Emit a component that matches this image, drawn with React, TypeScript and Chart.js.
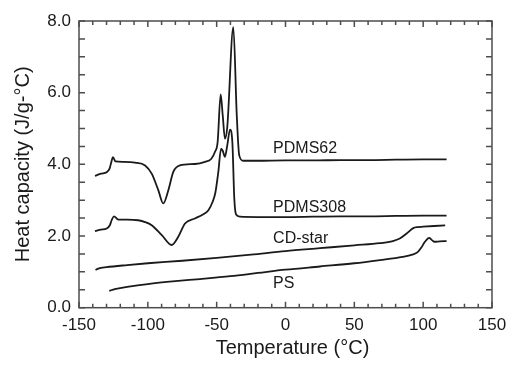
import React, { useEffect, useRef } from "react";
import { Chart, registerables } from "chart.js";

Chart.register(...registerables);

const FONT = "'Liberation Sans', Arial, Helvetica, sans-serif";
const INK = "#1a1a1a";
const FRAME = "#4d4d4d";

// PDMS62
const pdms62T = [-138.4, -134, -129.9, -127.8, -126.6, -125.3, -123.5, -118, -109.3, -102, -97.2, -92.4, -88.8, -85.1, -81.5, -76.7, -65.8, -58.5, -54, -51.2, -49.3, -47.1, -45.6, -44, -42.3, -37.9, -35.4, -33.6, -30.7, -20, 0, 20, 40, 60, 80, 100, 117];
const pdms62Cp = [3.68, 3.74, 3.78, 3.88, 4.05, 4.2, 4.08, 4.07, 4.05, 3.97, 3.74, 3.28, 2.91, 3.28, 3.79, 3.97, 4.01, 4.07, 4.15, 4.35, 4.62, 5.95, 5.37, 4.72, 5.04, 7.83, 5.37, 4.25, 4.1, 4.1, 4.11, 4.11, 4.12, 4.12, 4.13, 4.14, 4.14];

// PDMS308
const pdms308T = [-138.4, -134, -129.9, -127.6, -126.3, -124.6, -121.5, -115, -107, -102, -97.2, -90, -82.7, -77.9, -73, -65.8, -60, -56, -53, -51, -48.8, -46.8, -45.6, -44, -42.3, -40.3, -38.6, -37.2, -35.9, -33, -20, 0, 20, 40, 60, 80, 100, 117];
const pdms308Cp = [2.14, 2.18, 2.21, 2.3, 2.44, 2.55, 2.46, 2.46, 2.44, 2.39, 2.3, 2.03, 1.75, 1.98, 2.35, 2.49, 2.6, 2.72, 2.95, 3.2, 3.79, 4.44, 4.38, 4.21, 4.53, 4.97, 4.62, 3.05, 2.6, 2.54, 2.53, 2.53, 2.54, 2.55, 2.55, 2.56, 2.57, 2.57];

// CD-star
const cdStarT = [-138, -136, -130, -115, -100, -75, -50, -25, 0, 25, 50, 68.6, 78, 83, 88, 92.8, 96, 100, 108, 116];
const cdStarCp = [1.05, 1.09, 1.13, 1.19, 1.24, 1.31, 1.39, 1.48, 1.58, 1.66, 1.74, 1.8, 1.86, 1.93, 2.07, 2.22, 2.25, 2.26, 2.28, 2.3];

// PS
const psT = [-128, -124, -115, -100, -80, -62, -40, -20, 0, 25, 50, 68.6, 85, 92, 96, 98.5, 101.3, 104.4, 106, 108, 112, 117];
const psCp = [0.47, 0.52, 0.58, 0.66, 0.74, 0.8, 0.88, 0.97, 1.06, 1.15, 1.24, 1.33, 1.42, 1.48, 1.55, 1.67, 1.84, 1.95, 1.9, 1.84, 1.85, 1.86];

const seriesNames = ["PDMS62", "PDMS308", "CD-star", "PS"];
const labelT = [-9, -9, -9, -9];
const labelCp = [4.43, 2.79, 1.92, 0.67];

const xTitle = "Temperature (°C)";
const yTitle = "Heat capacity (J/g-°C)";

function toPoints(xs: number[], ys: number[]) {
  return xs.map((x, i) => ({ x, y: ys[i] }));
}

const decorPlugin = {
  id: "decor",
  afterDraw(chart: any) {
    const { ctx, chartArea: a, scales } = chart;
    const xs = scales.x;
    const ys = scales.y;
    ctx.save();
    ctx.strokeStyle = FRAME;
    ctx.lineWidth = 1.5;
    ctx.strokeRect(a.left, a.top, a.right - a.left, a.bottom - a.top);
    ctx.beginPath();
    for (let v = -150; v <= 150; v += 10) {
      const px = xs.getPixelForValue(v);
      const len = v % 50 === 0 ? 6 : 4;
      ctx.moveTo(px, a.bottom);
      ctx.lineTo(px, a.bottom - len);
      ctx.moveTo(px, a.top);
      ctx.lineTo(px, a.top + len);
    }
    for (let v = 0; v <= 8; v += 0.5) {
      const py = ys.getPixelForValue(v);
      ctx.moveTo(a.left, py);
      ctx.lineTo(a.left + 6, py);
      ctx.moveTo(a.right, py);
      ctx.lineTo(a.right - 6, py);
    }
    ctx.stroke();

    ctx.fillStyle = INK;
    ctx.font = `16px ${FONT}`;
    ctx.textAlign = "left";
    ctx.textBaseline = "middle";
    seriesNames.forEach((n, i) => {
      ctx.fillText(n, xs.getPixelForValue(labelT[i]), ys.getPixelForValue(labelCp[i]));
    });

    ctx.font = `20px ${FONT}`;
    ctx.textAlign = "center";
    ctx.fillText(xTitle, (a.left + a.right) / 2 + 7, 348);
    ctx.restore();
  },
};

export default function App() {
  const ref = useRef<HTMLCanvasElement | null>(null);

  useEffect(() => {
    if (!ref.current) return;
    const line = (pts: { x: number; y: number }[]) => ({
      data: pts,
      borderColor: INK,
      borderWidth: 1.8,
      pointRadius: 0,
      fill: false,
      cubicInterpolationMode: "monotone" as const,
    });
    const chart = new Chart(ref.current, {
      type: "line",
      data: {
        datasets: [
          { label: seriesNames[0], ...line(toPoints(pdms62T, pdms62Cp)) },
          { label: seriesNames[1], ...line(toPoints(pdms308T, pdms308Cp)) },
          { label: seriesNames[2], ...line(toPoints(cdStarT, cdStarCp)) },
          { label: seriesNames[3], ...line(toPoints(psT, psCp)) },
        ],
      },
      options: {
        responsive: false,
        animation: false,
        devicePixelRatio: 1,
        layout: { padding: { left: 0, right: 15, top: 21, bottom: 0 } },
        plugins: { legend: { display: false }, tooltip: { enabled: false } },
        scales: {
          x: {
            type: "linear",
            min: -150,
            max: 150,
            grid: { display: false, drawTicks: false },
            border: { display: false },
            ticks: {
              stepSize: 50,
              padding: 7,
              color: INK,
              font: { size: 17, family: FONT },
              maxRotation: 0,
            },
            afterFit: (s: any) => {
              s.height = 58.3;
              s.paddingLeft = 0;
              s.paddingRight = 0;
            },
          },
          y: {
            type: "linear",
            min: 0,
            max: 8,
            grid: { display: false, drawTicks: false },
            border: { display: false },
            ticks: {
              stepSize: 2,
              padding: 8,
              color: INK,
              font: { size: 17, family: FONT },
              callback: (v: any) => Number(v).toFixed(1),
            },
            title: {
              display: true,
              text: yTitle,
              color: INK,
              font: { size: 20, family: FONT },
              padding: { top: 11, bottom: 0 },
            },
            afterFit: (s: any) => {
              s.width = 79;
              s.paddingTop = 0;
              s.paddingBottom = 0;
            },
          },
        },
      },
      plugins: [decorPlugin],
    });
    return () => chart.destroy();
  }, []);

  return (
    <div style={{ position: "absolute", left: 0, top: 0, width: 507, height: 366, background: "#fff" }}>
      <canvas ref={ref} width={507} height={366} style={{ display: "block" }} />
    </div>
  );
}
